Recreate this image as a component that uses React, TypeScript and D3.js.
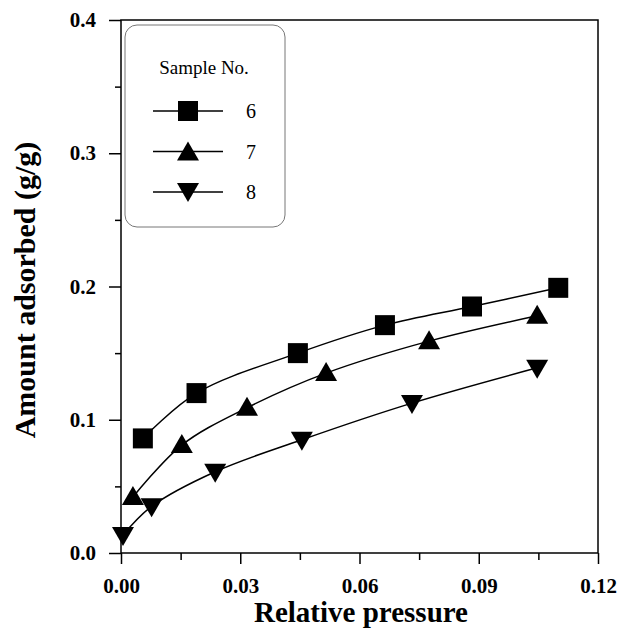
import React, { useEffect, useRef } from 'react';
import * as d3 from 'd3';

const width = 619;
const height = 631;
const margin = { top: 20, right: 21, bottom: 78, left: 121 };

const sample6X = [0.0055, 0.019, 0.0445, 0.0664, 0.0883, 0.110];
const sample6Y = [0.086, 0.120, 0.150, 0.171, 0.185, 0.199];
const sample7X = [0.003, 0.0153, 0.0317, 0.0516, 0.0775, 0.1047];
const sample7Y = [0.042, 0.081, 0.109, 0.135, 0.159, 0.178];
const sample8X = [0.0005, 0.0077, 0.0237, 0.0455, 0.0732, 0.1047];
const sample8Y = [0.0135, 0.035, 0.061, 0.085, 0.1125, 0.139];

const xTicks = [0, 0.03, 0.06, 0.09, 0.12];
const yTicks = [0, 0.1, 0.2, 0.3, 0.4];
const xMinor = [0.015, 0.045, 0.075, 0.105];
const yMinor = [0.05, 0.15, 0.25, 0.35];

const series = [
  { name: '6', xs: sample6X, ys: sample6Y, shape: 'square' },
  { name: '7', xs: sample7X, ys: sample7Y, shape: 'up' },
  { name: '8', xs: sample8X, ys: sample8Y, shape: 'down' },
];

function markerPath(shape: string) {
  if (shape === 'square') return 'M-10,-10H10V10H-10Z';
  if (shape === 'up') return 'M0,-11L11,8H-11Z';
  return 'M0,11L11,-8H-11Z';
}

export default function App() {
  const svgRef = useRef<SVGSVGElement>(null);

  useEffect(() => {
    const svg = d3.select(svgRef.current);
    svg.selectAll('*').remove();
    const iw = width - margin.left - margin.right;
    const ih = height - margin.top - margin.bottom;

    const x = d3.scaleLinear().domain([0, 0.12]).range([margin.left, margin.left + iw]);
    const y = d3.scaleLinear().domain([0, 0.4]).range([margin.top + ih, margin.top]);

    const serif = "'Liberation Serif', 'Times New Roman', serif";

    // frame
    svg.append('rect')
      .attr('x', x(0)).attr('y', y(0.4))
      .attr('width', x(0.12) - x(0)).attr('height', y(0) - y(0.4))
      .attr('fill', 'none').attr('stroke', '#000').attr('stroke-width', 1.5);

    const xAxis = d3.axisBottom(x).tickValues(xTicks).tickSize(11).tickFormat(d3.format('.2f'));
    svg.append('g').attr('transform', `translate(0,${y(0)})`).call(xAxis)
      .call(g => g.select('.domain').remove())
      .call(g => g.selectAll('line').attr('stroke-width', 1.5))
      .call(g => g.selectAll('text').attr('font-family', serif).attr('font-weight', 'bold')
        .attr('font-size', 21).attr('y', 40).attr('dy', 0).attr('fill', '#000'));
    svg.append('g').attr('transform', `translate(0,${y(0)})`)
      .call(d3.axisBottom(x).tickValues(xMinor).tickSize(7).tickFormat(() => ''))
      .call(g => g.select('.domain').remove())
      .call(g => g.selectAll('line').attr('stroke-width', 1.5));

    const yAxis = d3.axisLeft(y).tickValues(yTicks).tickSize(12).tickFormat(d3.format('.1f'));
    svg.append('g').attr('transform', `translate(${x(0)},0)`).call(yAxis)
      .call(g => g.select('.domain').remove())
      .call(g => g.selectAll('line').attr('stroke-width', 1.5))
      .call(g => g.selectAll('text').attr('font-family', serif).attr('font-weight', 'bold')
        .attr('font-size', 21).attr('x', -25).attr('fill', '#000'));
    svg.append('g').attr('transform', `translate(${x(0)},0)`)
      .call(d3.axisLeft(y).tickValues(yMinor).tickSize(6).tickFormat(() => ''))
      .call(g => g.select('.domain').remove())
      .call(g => g.selectAll('line').attr('stroke-width', 1.5));

    // axis titles
    svg.append('text')
      .attr('x', 361).attr('y', 622)
      .attr('text-anchor', 'middle')
      .attr('font-family', serif).attr('font-weight', 'bold').attr('font-size', 29)
      .text('Relative pressure');
    svg.append('text')
      .attr('transform', `translate(35,290) rotate(-90)`)
      .attr('text-anchor', 'middle')
      .attr('font-family', serif).attr('font-weight', 'bold').attr('font-size', 30)
      .text('Amount adsorbed (g/g)');

    const line = d3.line<[number, number]>()
      .x(d => x(d[0])).y(d => y(d[1]))
      .curve(d3.curveCatmullRom.alpha(0.5));

    series.forEach(s => {
      const pts = s.xs.map((v, i) => [v, s.ys[i]] as [number, number]);
      svg.append('path')
        .attr('d', line(pts))
        .attr('fill', 'none').attr('stroke', '#000').attr('stroke-width', 1.5);
      svg.append('g').selectAll('path')
        .data(pts)
        .join('path')
        .attr('transform', d => `translate(${x(d[0])},${y(d[1])})`)
        .attr('d', markerPath(s.shape))
        .attr('fill', '#000');
    });

    // legend
    const lg = svg.append('g');
    lg.append('rect')
      .attr('x', 125).attr('y', 25).attr('width', 160).attr('height', 202)
      .attr('rx', 12).attr('fill', '#fff').attr('stroke', '#777').attr('stroke-width', 1);
    lg.append('text')
      .attr('x', 204).attr('y', 74).attr('text-anchor', 'middle')
      .attr('font-family', serif).attr('font-size', 19)
      .text('Sample No.');
    series.forEach((s, i) => {
      const ly = 111 + i * 40.5;
      lg.append('line').attr('x1', 153).attr('x2', 223).attr('y1', ly).attr('y2', ly)
        .attr('stroke', '#000').attr('stroke-width', 1.5);
      lg.append('path').attr('transform', `translate(188,${ly + (s.shape === 'up' ? 1 : s.shape === 'down' ? -1 : 0)})`)
        .attr('d', markerPath(s.shape)).attr('fill', '#000');
      lg.append('text')
        .attr('x', 246).attr('y', ly + 7)
        .attr('font-family', serif).attr('font-size', 20)
        .text(s.name);
    });
  }, []);

  return (
    <svg ref={svgRef} width={width} height={height}
      style={{ position: 'absolute', left: 0, top: 0, background: '#fff' }} />
  );
}
